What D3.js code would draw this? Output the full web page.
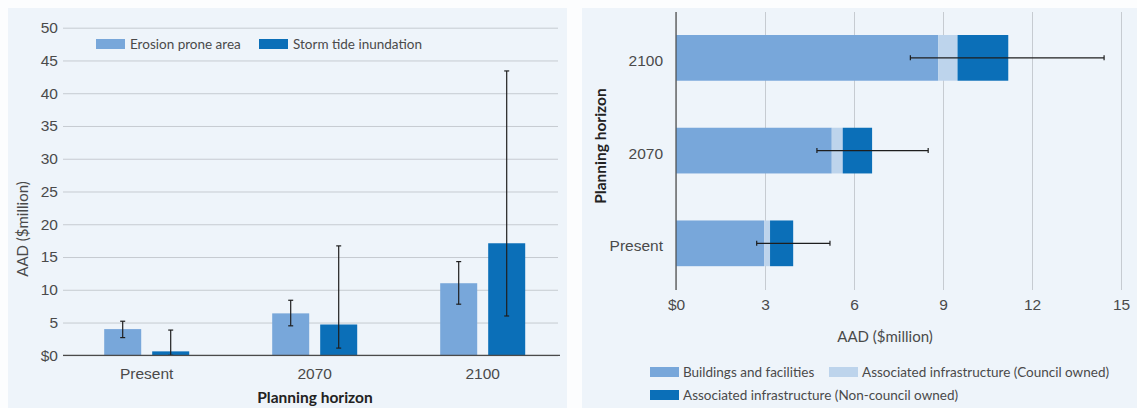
<!DOCTYPE html>
<html>
  <head>
    <meta charset="utf-8">
    <title>AAD by planning horizon</title>
    <script src="https://d3js.org/d3.v7.min.js"></script>
    <style>
      body { margin: 0; background: #fcfdfe; }
      svg { display: block; font-family: Lato, "Liberation Sans Narrow", sans-serif; }
      .tick text { fill: #4a4a4a; font-size: 15.5px; }
      .lab { fill: #4a4a4a; font-size: 15px; }
      .title { fill: #222; font-size: 15.5px; font-weight: bold; }
      .legend text { fill: #4a4a4a; font-size: 13.5px; }
    </style>
  </head>
  <body>
    <svg id="chart" width="1137" height="408"></svg>
    <script>
      // left chart data
      horizons = ["Present", "2070", "2100"];
      seriesNames = ["Erosion prone area", "Storm tide inundation"];
      erosion = [4.0, 6.4, 11.0];
      erosionLow = [2.7, 4.5, 7.8];
      erosionHigh = [5.2, 8.4, 14.3];
      storm = [0.6, 4.7, 17.1];
      stormLow = [0, 1.1, 6.0];
      stormHigh = [3.85, 16.7, 43.4];
      leftTicks = [0, 5, 10, 15, 20, 25, 30, 35, 40, 45, 50];

      // right chart data
      barHorizons = ["2100", "2070", "Present"];
      stackNames = ["Buildings and facilities", "Associated infrastructure (Council owned)", "Associated infrastructure (Non-council owned)"];
      buildings = [8.84, 5.25, 2.97];
      council = [0.65, 0.37, 0.2];
      nonCouncil = [1.71, 0.99, 0.78];
      totalLow = [7.9, 4.75, 2.72];
      totalHigh = [14.43, 8.5, 5.19];
      rightTicks = [0, 3, 6, 9, 12, 15];

      colMid = "#78a7da";
      colLight = "#bdd4ec";
      colDark = "#0b6fb8";
      money = function(d) { return d == 0 ? "$0" : d; };

      svg = d3.select("#chart");
      svg.append("rect").attr("x", 8).attr("y", 8).attr("width", 559).attr("height", 400).attr("fill", "#eef4fa");
      svg.append("rect").attr("x", 582).attr("y", 8).attr("width", 555).attr("height", 400).attr("fill", "#eef4fa");

      // ---------- left: grouped bars ----------
      left = svg.append("g");
      x0 = d3.scaleBand().domain(horizons).range([62.7, 566.7]).paddingInner(0.494).paddingOuter(0.247);
      x1 = d3.scaleBand().domain(seriesNames).range([0, x0.bandwidth()]).paddingInner(0.229);
      y = d3.scaleLinear().domain([0, 50]).range([355.3, 27.7]);

      yAxis = d3.axisLeft(y).tickValues(leftTicks).tickFormat(money).tickSize(-495).tickPadding(5);
      left.append("g").attr("transform", "translate(63,0)").call(yAxis)
        .call(function(g) {
          g.select(".domain").remove();
          g.selectAll(".tick line").attr("stroke", "#c6cbd1");
        });

      groups = left.selectAll(".grp")
          .data(horizons.map(function(h, i) {
            return [
              { key: seriesNames[0], v: erosion[i], lo: erosionLow[i], hi: erosionHigh[i], c: colMid },
              { key: seriesNames[1], v: storm[i], lo: stormLow[i], hi: stormHigh[i], c: colDark }
            ];
          }))
        .enter().append("g")
          .attr("transform", function(d, i) { return "translate(" + x0(horizons[i]) + ",0)"; });
      groups.selectAll("rect")
          .data(function(d) { return d; })
        .enter().append("rect")
          .attr("x", function(d) { return x1(d.key); })
          .attr("y", function(d) { return y(d.v); })
          .attr("width", x1.bandwidth())
          .attr("height", function(d) { return y(0) - y(d.v); })
          .attr("fill", function(d) { return d.c; });
      errs = groups.selectAll(".err")
          .data(function(d) { return d; })
        .enter().append("g")
          .attr("stroke", "#1e1e1e").attr("stroke-width", 1.2);
      errs.append("line")
        .attr("x1", function(d) { return x1(d.key) + x1.bandwidth() / 2; })
        .attr("x2", function(d) { return x1(d.key) + x1.bandwidth() / 2; })
        .attr("y1", function(d) { return y(d.lo); })
        .attr("y2", function(d) { return y(d.hi); });
      ["lo", "hi"].forEach(function(k) {
        errs.append("line")
          .attr("x1", function(d) { return x1(d.key) + x1.bandwidth() / 2 - 2.5; })
          .attr("x2", function(d) { return x1(d.key) + x1.bandwidth() / 2 + 2.5; })
          .attr("y1", function(d) { return y(d[k]); })
          .attr("y2", function(d) { return y(d[k]); });
      });

      left.append("line").attr("x1", 63).attr("x2", 560).attr("y1", y(0)).attr("y2", y(0))
        .attr("stroke", "#4a4a4a").attr("stroke-width", 1.2);
      xAxis = d3.axisBottom(x0).tickSize(0).tickPadding(13);
      left.append("g").attr("transform", "translate(0," + y(0) + ")").call(xAxis)
        .call(function(g) { g.select(".domain").remove(); });
      left.selectAll(".tick text").attr("font-family", null);
      left.selectAll(".tick").attr("font-size", null);

      left.append("text").attr("class", "title").attr("x", 315).attr("y", 403)
        .attr("text-anchor", "middle").text("Planning horizon");
      left.append("text").attr("class", "lab").attr("transform", "translate(28,229) rotate(-90)")
        .attr("text-anchor", "middle").text("AAD ($million)");

      leg1 = left.append("g").attr("class", "legend");
      leg1Items = leg1.selectAll("g").data(seriesNames).enter().append("g")
        .attr("transform", function(d, i) { return "translate(" + [96, 259][i] + ",39)"; });
      leg1Items.append("rect").attr("width", 29).attr("height", 10)
        .attr("fill", function(d, i) { return [colMid, colDark][i]; });
      leg1Items.append("text").attr("x", 34).attr("y", 10).text(function(d) { return d; });

      // ---------- right: stacked horizontal bars ----------
      right = svg.append("g");
      xr = d3.scaleLinear().domain([0, 15]).range([676, 1121]);
      yr = d3.scaleBand().domain(barHorizons).range([11.5, 289.7]).paddingInner(0.507).paddingOuter(0.2535);

      xrAxis = d3.axisBottom(xr).tickValues(rightTicks).tickFormat(money).tickSize(-278).tickPadding(9);
      right.append("g").attr("transform", "translate(0,290)").call(xrAxis)
        .call(function(g) {
          g.select(".domain").remove();
          g.selectAll(".tick line").attr("stroke", "#c6cbd1");
        });

      stackRows = barHorizons.map(function(h, i) {
        return { horizon: h, b: buildings[i], c: council[i], n: nonCouncil[i] };
      });
      stacked = d3.stack().keys(["b", "c", "n"])(stackRows);
      stackCols = [colMid, colLight, colDark];
      right.selectAll(".layer")
          .data(stacked)
        .enter().append("g")
          .attr("fill", function(d, i) { return stackCols[i]; })
        .selectAll("rect")
          .data(function(d) { return d; })
        .enter().append("rect")
          .attr("x", function(d) { return xr(d[0]); })
          .attr("width", function(d) { return xr(d[1]) - xr(d[0]); })
          .attr("y", function(d) { return yr(d.data.horizon); })
          .attr("height", yr.bandwidth());

      right.append("line").attr("x1", 676).attr("x2", 676).attr("y1", 12).attr("y2", 290)
        .attr("stroke", "#4a4a4a").attr("stroke-width", 1.2);

      rErr = right.selectAll(".rerr")
          .data(barHorizons.map(function(h, i) { return { h: h, lo: totalLow[i], hi: totalHigh[i] }; }))
        .enter().append("g").attr("stroke", "#1e1e1e").attr("stroke-width", 1.2);
      rErr.append("line")
        .attr("x1", function(d) { return xr(d.lo); }).attr("x2", function(d) { return xr(d.hi); })
        .attr("y1", function(d) { return yr(d.h) + yr.bandwidth() / 2; })
        .attr("y2", function(d) { return yr(d.h) + yr.bandwidth() / 2; });
      ["lo", "hi"].forEach(function(k) {
        rErr.append("line")
          .attr("x1", function(d) { return xr(d[k]); }).attr("x2", function(d) { return xr(d[k]); })
          .attr("y1", function(d) { return yr(d.h) + yr.bandwidth() / 2 - 2.5; })
          .attr("y2", function(d) { return yr(d.h) + yr.bandwidth() / 2 + 2.5; });
      });

      yrAxis = d3.axisLeft(yr).tickSize(0).tickPadding(13);
      right.append("g").attr("transform", "translate(676,3)").call(yrAxis)
        .call(function(g) { g.select(".domain").remove(); });
      right.selectAll(".tick text").attr("font-family", null);
      right.selectAll(".tick").attr("font-size", null);

      right.append("text").attr("class", "lab").attr("x", 885).attr("y", 342)
        .attr("text-anchor", "middle").text("AAD ($million)");
      right.append("text").attr("class", "title").attr("transform", "translate(606,146) rotate(-90)")
        .attr("text-anchor", "middle").text("Planning horizon");

      leg2 = right.append("g").attr("class", "legend");
      leg2Pos = [[650, 367], [829, 367], [650, 390]];
      leg2Items = leg2.selectAll("g").data(stackNames).enter().append("g")
        .attr("transform", function(d, i) { return "translate(" + leg2Pos[i] + ")"; });
      leg2Items.append("rect").attr("width", 29).attr("height", 10)
        .attr("fill", function(d, i) { return stackCols[i]; });
      leg2Items.append("text").attr("x", 33).attr("y", 10).text(function(d) { return d; });
    </script>
  </body>
</html>
